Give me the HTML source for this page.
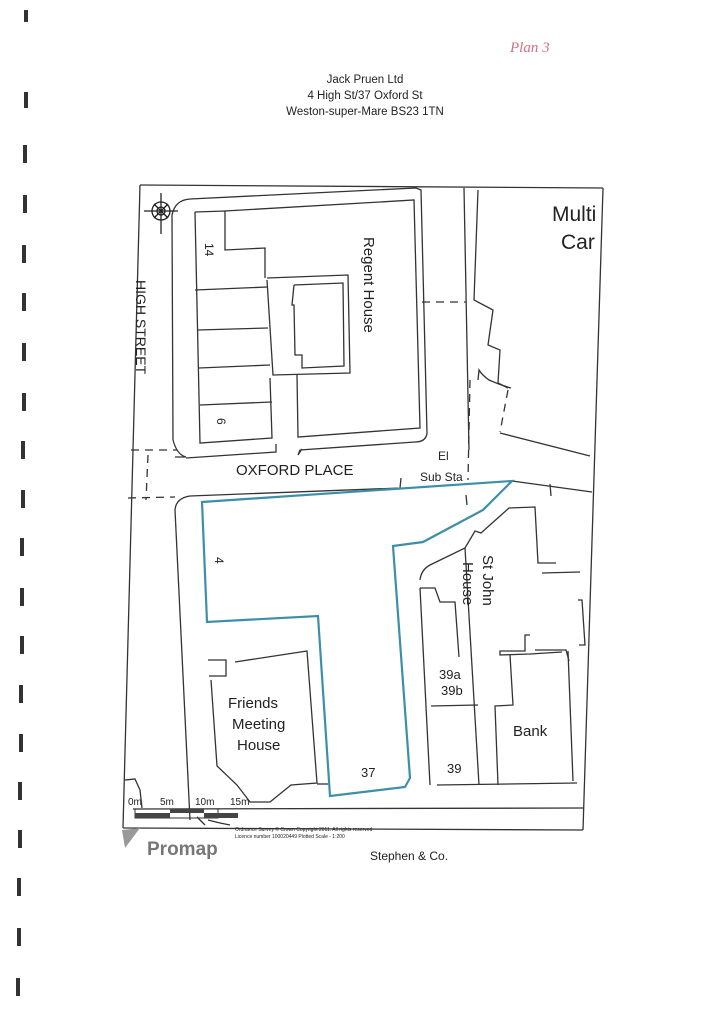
<!DOCTYPE html>
<html><head><meta charset="utf-8"><style>
html,body{margin:0;padding:0;background:#fff;}
svg{display:block;font-family:"Liberation Sans",sans-serif;}
</style></head><body>
<svg width="724" height="1024" viewBox="0 0 724 1024" xmlns="http://www.w3.org/2000/svg">
<rect width="724" height="1024" fill="#fff"/>
<g fill="#333">
<rect x="24" y="10" width="4" height="12"/><rect x="24" y="92" width="4" height="16"/><rect x="23" y="145" width="4" height="18"/><rect x="23" y="195" width="4" height="18"/><rect x="22" y="245" width="4" height="18"/><rect x="22" y="293" width="4" height="18"/><rect x="22" y="343" width="4" height="18"/><rect x="22" y="393" width="4" height="18"/><rect x="21" y="441" width="4" height="18"/><rect x="21" y="490" width="4" height="18"/><rect x="20" y="538" width="4" height="18"/><rect x="20" y="588" width="4" height="18"/><rect x="20" y="636" width="4" height="18"/><rect x="19" y="685" width="4" height="18"/><rect x="19" y="734" width="4" height="18"/><rect x="18" y="782" width="4" height="18"/><rect x="18" y="830" width="4" height="18"/><rect x="17" y="878" width="4" height="18"/><rect x="17" y="928" width="4" height="18"/><rect x="16" y="978" width="4" height="18"/>
</g>
<text x="510" y="52" font-size="15" fill="#d07080" font-style="italic" font-family="Liberation Serif,serif">Plan 3</text>
<g font-size="11.5" fill="#222" text-anchor="middle">
<text x="365" y="83">Jack Pruen Ltd</text>
<text x="365" y="99">4 High St/37 Oxford St</text>
<text x="365" y="115">Weston-super-Mare BS23 1TN</text>
</g>
<g fill="none" stroke="#333" stroke-width="1.3">
<!-- frame -->
<polyline points="140,185 603,188"/>
<polyline points="140,185 123,828"/>
<polyline points="603,188 583,830"/>
<polyline points="123,828 583,830"/>
<!-- Regent block outer -->
<path d="M175,457 L186,457 Q177,455 173,440 L172,215 Q175,200 190,199 L416,188 L421,190 L427,433 Q426,442 415,442 L300,450 L298,455 L302,449"/>
<path d="M186,458 L276,452 L276,444"/>
<polyline points="195,212 225,211 225,250 265,248 265,278"/>
<polyline points="225,211 414,200 420,428 298,437 297,375"/>
<polyline points="195,212 200,443 272,438 270,378"/>
<polyline points="195,290 267,287"/><polyline points="198,330 268,328"/><polyline points="199,368 270,365"/><polyline points="200,405 272,402"/>
<polyline points="267,278 348,275 350,373 273,375 267,280"/>
<polyline points="294,285 343,283 344,366 302,368 302,355 295,355 294,305 292,305 294,285"/>
<!-- multi car park -->
<polyline points="464,188 469,450"/>
<polyline points="478,190 474,300 493,310 488,345 500,350 498,383 508,388"/>
<path d="M478,380 L479,370 Q482,375 489,380 Q500,385 511,388"/>
<polyline points="500,433 590,456"/>
<!-- dashed lines -->
<g stroke-dasharray="8,6">
<polyline points="422,302 466,302"/>
<polyline points="131,450 177,450"/>
<polyline points="128,498 175,497"/>
<polyline points="148,455 146,500"/>
<polyline points="470,380 468,480"/>
<polyline points="508,390 500,432"/>
</g>
<!-- south block -->
<path d="M175,510 Q176,498 190,496 L400,488 L401,478"/>
<polyline points="175,510 190,820"/>
<polyline points="512,481 592,492"/>
<polyline points="550,484 551,496"/>
<polyline points="466,495 467,505"/>
<path d="M420,580 Q421,570 430,565 L465,548 L475,531 L481,533 L509,508 L535,507 L538,563 L556,563"/>
<polyline points="420,588 435,588 440,602 455,602 459,657"/>
<polyline points="420,588 430,785"/>
<polyline points="465,548 479,785"/>
<polyline points="431,706 478,705"/>
<polyline points="437,785 577,783"/>
<polyline points="542,573 580,572"/>
<polyline points="530,635 525,635 525,651 500,651 500,655 530,654 562,652"/>
<polyline points="510,655 513,705 495,706 498,785"/>
<polyline points="535,650 566,650 569,661"/>
<polyline points="568,651 573,781"/>
<polyline points="578,600 582,600 585,645 579,645"/>
<polyline points="235,662 307,651 317,783 291,785 270,802 250,802 237,785 217,766 211,680"/>
<polyline points="208,660 226,660 226,676 209,676"/>
<polyline points="317,784 328,784"/>
<polyline points="133,809 583,808"/>
<polyline points="125,780 135,779 140,790 142,808"/>
<polyline points="197,817 205,825"/>
<polyline points="208,820 220,823 230,825"/>
</g>
<!-- plot -->
<polygon points="202,502 512,481 483,510 423,542 393,546 410,778 405,787 330,796 318,616 207,622" fill="none" stroke="#3d8fa8" stroke-width="2.2"/>
<!-- compass -->
<g stroke="#222" fill="none" stroke-width="1.3">
<circle cx="161" cy="211" r="9"/><circle cx="161" cy="211" r="4"/>
<line x1="161" y1="193" x2="161" y2="234"/><line x1="144" y1="211" x2="178" y2="211"/>
<line x1="154" y1="204" x2="168" y2="218"/><line x1="168" y1="204" x2="154" y2="218"/>
</g>
<!-- scale bar -->
<g font-size="10" fill="#222">
<text x="128" y="805">0m</text><text x="160" y="805">5m</text><text x="195" y="805">10m</text><text x="230" y="805">15m</text>
<rect x="135" y="809" width="83" height="9" fill="none" stroke="#333"/>
<rect x="170" y="809" width="34" height="4" fill="#444"/>
<rect x="135" y="813" width="35" height="5" fill="#444"/>
<rect x="204" y="813" width="34" height="5" fill="#444"/>
</g>
<!-- labels -->
<g fill="#222">
<text font-size="21" x="552" y="221">Multi</text>
<text font-size="21" x="561" y="249">Car</text>
<text font-size="15" transform="translate(364,237) rotate(90)">Regent House</text>
<text font-size="12" transform="translate(205,243) rotate(90)">14</text>
<text font-size="12" transform="translate(217,418) rotate(90)">6</text>
<text font-size="14" transform="translate(136,280) rotate(90)">HIGH STREET</text>
<text font-size="15" x="236" y="475">OXFORD PLACE</text>
<text font-size="12" x="438" y="460">El</text>
<text font-size="12" x="420" y="481">Sub Sta</text>
<text font-size="12" transform="translate(215,557) rotate(90)">4</text>
<text font-size="15" transform="translate(483,555) rotate(90)">St John</text>
<text font-size="15" transform="translate(463,562) rotate(90)">House</text>
<text font-size="13" x="439" y="679">39a</text>
<text font-size="13" x="441" y="695">39b</text>
<text font-size="13" x="447" y="773">39</text>
<text font-size="15" x="513" y="736">Bank</text>
<text font-size="15" x="228" y="708">Friends</text>
<text font-size="15" x="232" y="729">Meeting</text>
<text font-size="15" x="237" y="750">House</text>
<text font-size="13" x="361" y="777">37</text>
<text font-size="5" x="235" y="831">Ordnance Survey © Crown Copyright 2011. All rights reserved</text>
<text font-size="5" x="235" y="838">Licence number 100020449  Plotted Scale - 1:200</text>
<text font-size="19" font-weight="bold" x="147" y="855" fill="#777">Promap</text>
<text font-size="12" x="370" y="860">Stephen &amp; Co.</text>
</g>
<polygon points="122,830 140,828 125,848" fill="#999"/>
</svg>
</body></html>
